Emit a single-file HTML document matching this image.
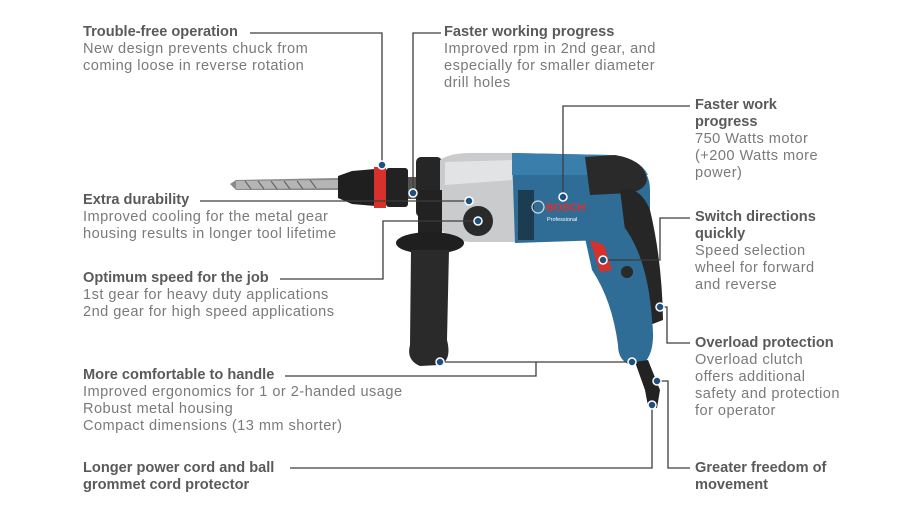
<!DOCTYPE html>
<html><head><meta charset="utf-8"><style>
body{margin:0;width:924px;height:520px;background:#fff;position:relative;overflow:hidden;font-family:"Liberation Sans",sans-serif;}
.t{position:absolute;font-size:14.6px;line-height:17px;color:#7a7a7a;white-space:nowrap;letter-spacing:0.45px;}
.t b{color:#5a5a5a;letter-spacing:0;}
svg{position:absolute;left:0;top:0;}
</style></head><body>
<svg width="924" height="520" viewBox="0 0 924 520">
<path d="M230 184 L236 180 L338 178 L338 190 L236 190 Z" fill="#8a8a8a"/>
<path d="M236 181 L338 180 L338 188 L236 189 Z" fill="#b5b5b5"/>
<g stroke="#666" stroke-width="1.2"><path d="M245 181 l6 8 M258 181 l6 8 M271 181 l6 8 M284 181 l6 8 M297 181 l6 8 M310 180 l6 8"/></g>
<path d="M338 176 L352 171 L375 169 L375 206 L352 204 L338 198 Z" fill="#1f1f1f"/>
<rect x="374" y="167" width="12" height="41" fill="#d6322b"/>
<rect x="386" y="168" width="22" height="39" rx="3" fill="#222"/>
<rect x="408" y="177" width="10" height="22" fill="#555"/>
<rect x="416" y="157" width="26" height="60" rx="5" fill="#262626"/>
<path d="M440 160 Q450 153 470 153 L515 153 L515 242 L470 242 Q448 240 440 228 Z" fill="#c9cbcd"/>
<path d="M445 162 L512 160 L512 180 L445 185 Z" fill="#e2e3e4"/>
<circle cx="478" cy="221" r="15" fill="#2a2a2a"/>
<path d="M512 153 L610 155 Q650 160 650 190 L650 235 L635 230 L620 235 L605 240 L515 243 Z" fill="#2f6d96"/>
<path d="M512 153 L610 155 Q640 158 648 175 L512 175 Z" fill="#3a7fab"/>
<rect x="518" y="190" width="16" height="50" fill="#1c3c52"/>
<text x="546" y="211" font-size="11" font-weight="bold" fill="#e0302a" font-family="Liberation Sans">BOSCH</text>
<text x="547" y="221" font-size="5.5" fill="#fff" font-family="Liberation Sans">Professional</text>
<circle cx="538" cy="207" r="6" fill="none" stroke="#ddd" stroke-width="1.2"/>
<path d="M585 157 L615 155 Q645 160 647 180 Q645 190 630 193 L590 195 Z" fill="#2a2a2a"/>
<path d="M620 190 Q640 185 650 210 Q662 260 663 320 L650 325 Q640 270 625 230 Z" fill="#262626"/>
<path d="M585 238 L625 228 Q648 260 652 320 Q656 350 645 362 L630 365 Q618 360 618 345 Q612 300 592 270 Z" fill="#2f6d96"/>
<path d="M590 240 L604 245 L612 270 L600 272 Z" fill="#d6322b"/>
<circle cx="627" cy="272" r="6" fill="#2a2a2a"/>
<path d="M635 362 L648 360 L660 390 L657 408 L648 406 L645 390 Z" fill="#222"/>
<path d="M418 190 L442 190 L442 240 L418 240 Z" fill="#222"/>
<ellipse cx="430" cy="243" rx="34" ry="11" fill="#1f1f1f"/>
<path d="M411 250 L449 250 L447 340 Q452 360 440 365 L420 366 Q406 360 410 345 Z" fill="#2a2a2a"/>
<g fill="none" stroke="#3d3d3d" stroke-width="1.3">
<path d="M250 33 H382 V165"/>
<path d="M441 33 H413 V193"/>
<path d="M563 197 V106 H690"/>
<path d="M200 201 H469"/>
<path d="M280 279 H383 V221 H478"/>
<path d="M603 260 H660 V218 H690"/>
<path d="M660 307 H667 V343 H690"/>
<path d="M285 376 H536 V362 M440 362 H632"/>
<path d="M290 468 H652 V405"/>
<path d="M657 381 H668 V468 H690"/>
</g>
<g fill="#1d4f80" stroke="#fff" stroke-width="1.5">
<circle cx="382" cy="165" r="4"/><circle cx="413" cy="193" r="4"/><circle cx="469" cy="201" r="4"/>
<circle cx="478" cy="221" r="4"/><circle cx="563" cy="197" r="4"/><circle cx="603" cy="260" r="4"/>
<circle cx="660" cy="307" r="4"/><circle cx="440" cy="362" r="4"/><circle cx="632" cy="362" r="4"/>
<circle cx="657" cy="381" r="4"/><circle cx="652" cy="405" r="4"/>
</g>
</svg>
<div class="t" style="left:83px;top:24px"><b>Trouble-free operation</b><br>New design prevents chuck from<br>coming loose in reverse rotation</div>
<div class="t" style="left:444px;top:24px"><b>Faster working progress</b><br>Improved rpm in 2nd gear, and<br>especially for smaller diameter<br>drill holes</div>
<div class="t" style="left:695px;top:97px"><b>Faster work<br>progress</b><br>750 Watts motor<br>(+200 Watts more<br>power)</div>
<div class="t" style="left:83px;top:192px"><b>Extra durability</b><br>Improved cooling for the metal gear<br>housing results in longer tool lifetime</div>
<div class="t" style="left:695px;top:209px"><b>Switch directions<br>quickly</b><br>Speed selection<br>wheel for forward<br>and reverse</div>
<div class="t" style="left:83px;top:270px"><b>Optimum speed for the job</b><br>1st gear for heavy duty applications<br>2nd gear for high speed applications</div>
<div class="t" style="left:695px;top:335px"><b>Overload protection</b><br>Overload clutch<br>offers additional<br>safety and protection<br>for operator</div>
<div class="t" style="left:83px;top:367px"><b>More comfortable to handle</b><br>Improved ergonomics for 1 or 2-handed usage<br>Robust metal housing<br>Compact dimensions (13 mm shorter)</div>
<div class="t" style="left:83px;top:460px"><b>Longer power cord and ball<br>grommet cord protector</b></div>
<div class="t" style="left:695px;top:460px"><b>Greater freedom of<br>movement</b></div>
</body></html>
